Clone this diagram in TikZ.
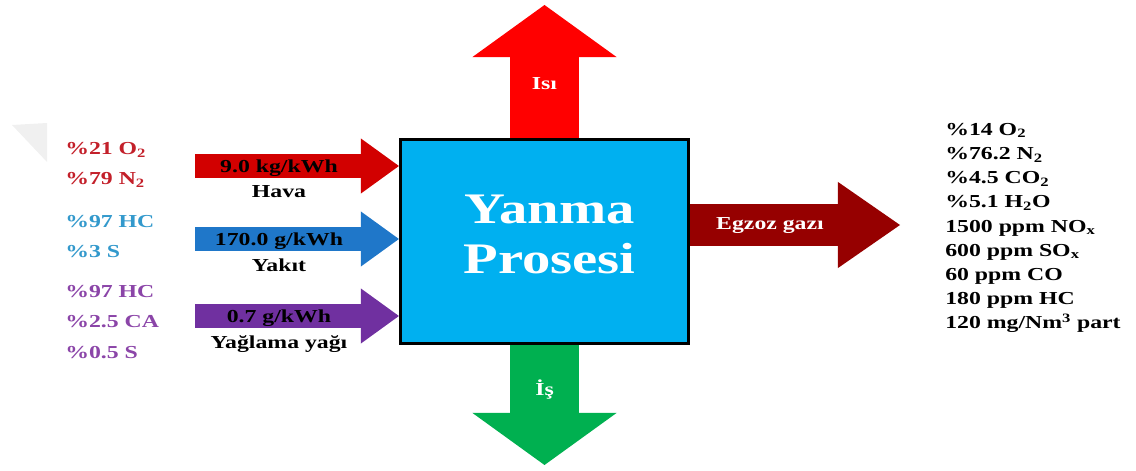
\documentclass[tikz,border=0pt]{standalone}
\usepackage{fontspec}
\setmainfont[FakeStretch=1.3]{Liberation Serif}
\usepackage{tikz}
\usetikzlibrary{arrows.meta,positioning,calc}
\definecolor{procblue}{HTML}{00B0F0}
\definecolor{airred}{HTML}{D20000}
\definecolor{heatred}{HTML}{FF0000}
\definecolor{fuelblue}{HTML}{1F77C9}
\definecolor{oilpurple}{HTML}{7030A0}
\definecolor{workgreen}{HTML}{00B050}
\definecolor{exhred}{HTML}{960000}
\definecolor{airtxt}{HTML}{C3202A}
\definecolor{fueltxt}{HTML}{3399CC}
\definecolor{oiltxt}{HTML}{8B45A8}

\begin{document}
\begin{tikzpicture}[x=0.025cm,y=-0.025cm,every node/.style={font=\bfseries\fontsize{13}{16}\selectfont,inner sep=0pt,align=center},procbox/.style={draw=black,line width=2.2pt,fill=procblue,minimum width=7.2cm,minimum height=5.1cm},proctext/.style={text=white,font=\bfseries\fontsize{31}{35}\selectfont},inarrow/.style={line width=0.6cm,-{Triangle[width=1.375cm,length=0.95cm,line width=0pt]}},vertarrow/.style={line width=1.725cm,-{Triangle[width=3.6cm,length=1.3cm,line width=0pt]}},exharrow/.style={line width=1.025cm,-{Triangle[width=2.15cm,length=1.55cm,line width=0pt]}},complist/.style={anchor=west,align=left,font=\bfseries\fontsize{13}{21.5}\selectfont}]
\useasboundingbox (0,0) rectangle (1136,471);
\fill[black!6] (12,125)--(47,123)--(47,162)--cycle;
\node[procbox] (proc) at (544.5,241.5) {};
\node[proctext] (proclbl) at ($(proc.center)+(5,-7)$) {Yanma\\Prosesi};
\coordinate (airin) at (195,166);
\coordinate (fuelin) at (195,239);
\coordinate (oilin) at (195,316);
\coordinate (heattip) at (544.5,5);
\coordinate (worktip) at (544.5,465);
\coordinate (exhtip) at (900,225);
\draw[inarrow,airred] (airin)--(airin-|proc.west);
\draw[inarrow,fuelblue] (fuelin)--(fuelin-|proc.west);
\draw[inarrow,oilpurple] (oilin)--(oilin-|proc.west);
\draw[vertarrow,heatred] (proc.north)--(heattip);
\draw[vertarrow,workgreen] (proc.south)--(worktip);
\draw[exharrow,exhred] (proc.east|-exhtip)--(exhtip);
\node (airrate) at (279,168) {9.0 kg/kWh};
\node[below=0.22cm of airrate] (airname) {Hava};
\node (fuelrate) at (279,241) {170.0 g/kWh};
\node[below=0.22cm of fuelrate] (fuelname) {Yakıt};
\node (oilrate) at (279,318) {0.7 g/kWh};
\node[below=0.22cm of oilrate] (oilname) {Yağlama yağı};
\node[text=white] (heatlbl) at (544.5,84) {Isı};
\node[text=white] (worklbl) at (544.5,390) {İş};
\node[text=white] (exhlbl) at (770,226) {Egzoz gazı};
\node[complist,text=airtxt] (aircomp) at (65,165) {\%21 O\textsubscript{2}\\\%79 N\textsubscript{2}};
\node[complist,text=fueltxt] (fuelcomp) at (65,236.5) {\%97 HC\\\%3 S};
\node[complist,text=oiltxt] (oilcomp) at (65,322) {\%97 HC\\\%2.5 CA\\\%0.5 S};
\node[complist,font=\bfseries\fontsize{13}{17.2}\selectfont] (exhcomp) at (945,228) {\%14 O\textsubscript{2}\\\%76.2 N\textsubscript{2}\\\%4.5 CO\textsubscript{2}\\\%5.1 H\textsubscript{2}O\\1500 ppm NO\textsubscript{x}\\600 ppm SO\textsubscript{x}\\60 ppm CO\\180 ppm HC\\120 mg/Nm\textsuperscript{3} part};
\end{tikzpicture}
\end{document}
